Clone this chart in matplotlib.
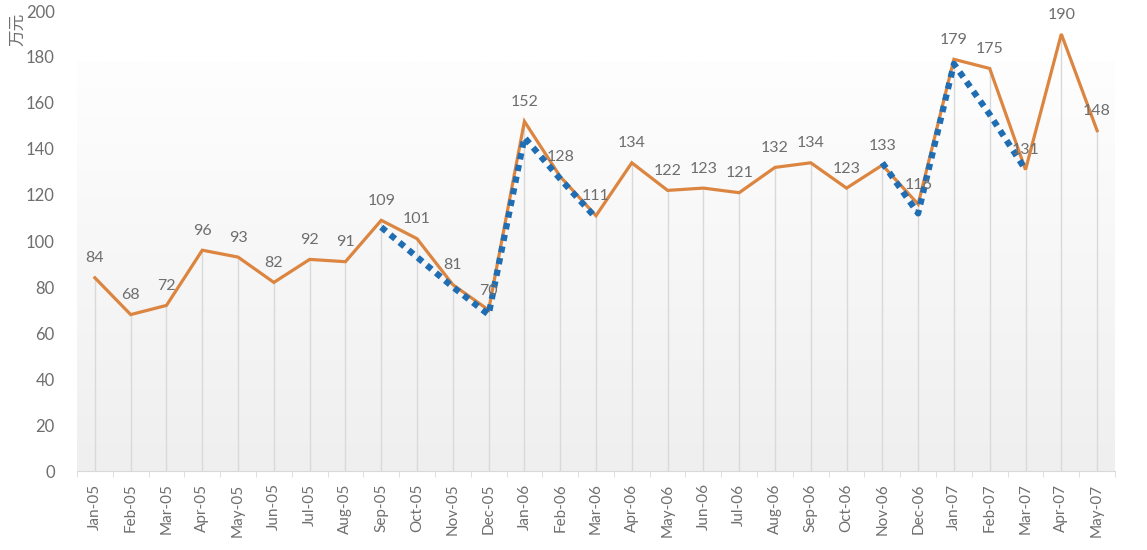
import numpy as np
import matplotlib
matplotlib.use('Agg')
import matplotlib.pyplot as plt
from matplotlib.colors import LinearSegmentedColormap

plt.rcParams['font.family'] = ['Lato', 'Noto Sans CJK SC', 'DejaVu Sans']

months = ['Jan-05', 'Feb-05', 'Mar-05', 'Apr-05', 'May-05', 'Jun-05', 'Jul-05', 'Aug-05',
          'Sep-05', 'Oct-05', 'Nov-05', 'Dec-05', 'Jan-06', 'Feb-06', 'Mar-06', 'Apr-06',
          'May-06', 'Jun-06', 'Jul-06', 'Aug-06', 'Sep-06', 'Oct-06', 'Nov-06', 'Dec-06',
          'Jan-07', 'Feb-07', 'Mar-07', 'Apr-07', 'May-07']

sales = [84, 68, 72, 96, 93, 82, 92, 91, 109, 101, 81, 70, 152, 128, 111, 134,
         122, 123, 121, 132, 134, 123, 133, 116, 179, 175, 131, 190, 148]

# dotted blue trend segments (NaN = no line)
nan = np.nan
trend = [nan, nan, nan, nan, nan, nan, nan, nan, 106, 93, 80, 68, 145, 127, 110, nan,
         nan, nan, nan, nan, nan, nan, 134, 112, 177, 155, 131, nan, nan]

gray_txt = '#6e6e6e'
orange = '#dc8540'
blue = '#1f6db3'

fig = plt.figure(figsize=(11.47, 5.5), dpi=100)
ax = fig.add_axes([77 / 1147, 79 / 550, (1115 - 77) / 1147, (471 - 11) / 550])

x = np.arange(len(months))

# gradient backdrop
cmap = LinearSegmentedColormap.from_list('bg', ['#efefef', '#fefefe'])
grad = np.linspace(0, 1, 256).reshape(-1, 1)
ax.imshow(grad, extent=[-0.5, len(months) - 0.5, 0, 178], origin='lower',
          aspect='auto', cmap=cmap, zorder=0)

# drop lines
ax.vlines(x, 0, sales, color='#d9d9d9', lw=1, zorder=1)

ax.plot(x, trend, color=blue, lw=4.5, linestyle=(0, (1, 0.9)),
        dash_capstyle='butt', zorder=3)
ax.plot(x, sales, color=orange, lw=2.3, zorder=2, solid_joinstyle='miter')

for xi, v in zip(x, sales):
    ax.annotate(str(v), (xi, v), xytext=(0, 14), textcoords='offset points',
                ha='center', va='center', fontsize=11.5, color=gray_txt, zorder=4)

ax.set_xlim(-0.5, len(months) - 0.5)
ax.set_ylim(0, 200)
ax.set_yticks(range(0, 201, 20))
ax.set_xticks(x)
ax.set_xticklabels(months, rotation=90, fontsize=11, color=gray_txt)
ax.set_xticks(np.arange(-0.5, len(months), 1), minor=True)
ax.tick_params(axis='x', which='major', length=0, pad=9)
ax.tick_params(axis='x', which='minor', length=4, color='#d9d9d9')
ax.tick_params(axis='y', length=0, labelsize=12, labelcolor=gray_txt, pad=16)

for s in ['top', 'right', 'left']:
    ax.spines[s].set_visible(False)
ax.spines['bottom'].set_color('#d9d9d9')
ax.spines['bottom'].set_zorder(5)

fig.text(18 / 1147, 1 - 29 / 550, '万元', rotation=90, ha='center', va='center',
         fontsize=12, color=gray_txt, family=['Noto Sans CJK SC', 'DejaVu Sans'])

fig.savefig('out.png', dpi=100, facecolor='white')
